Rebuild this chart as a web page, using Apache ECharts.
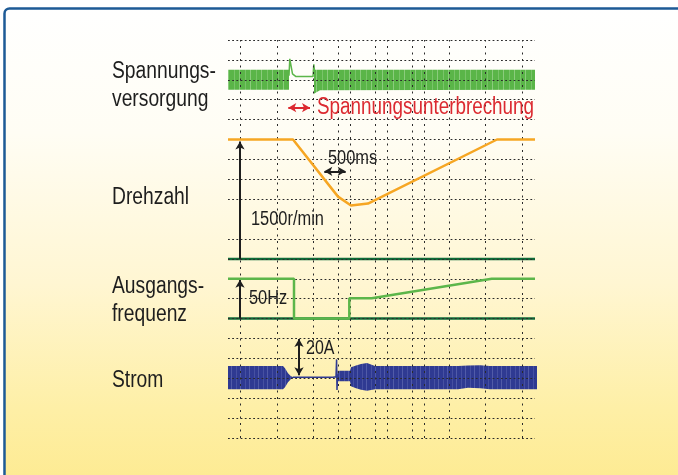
<!DOCTYPE html>
<html>
<head>
<meta charset="utf-8">
<script src="https://cdn.jsdelivr.net/npm/echarts@6/dist/echarts.min.js"></script>
<style>
  html, body { margin: 0; padding: 0; background: #fff; }
  #chart { width: 678px; height: 475px; }
</style>
</head>
<body>
<div id="chart"></div>
<script>
// x = time offset along the trace, y = grid rows counted from the bottom line

// dotted grid
const gridColsA = [12, 48.9, 85.7, 122.5, 159.4, 196.2];
const gridColsB = [110.3, 147.2, 184, 220.9, 257.7, 294.6];
const gridRows = [0, 1, 2, 3, 4, 5, 6, 7, 8, 9, 10, 12, 13, 14, 15, 16, 17, 18, 19, 20];

// zero lines of Drehzahl and Ausgangsfrequenz
const baseRows = [9, 6];

// Spannungsversorgung (envelope of the mains voltage)
const voltA_x = [0, 61];
const voltA_lo = [17.5, 17.5];
const voltA_hi = [18.5, 18.5];
const voltB_x = [86, 88, 92, 307];
const voltB_lo = [17.3, 17.36, 17.48, 17.5];
const voltB_hi = [18.5, 18.5, 18.5, 18.5];
const voltGap = [[61, 18.2], [61.8, 19.05], [64.5, 18.3], [68, 18.16], [85, 18.16], [85.8, 18.78], [86.5, 18.45]];

// Drehzahl
const speedX = [0, 65, 110, 123, 140, 269, 307];
const speedY = [15, 15, 12.13, 11.68, 11.78, 15, 15];

// Ausgangsfrequenz
const freqX = [0, 66, 66, 121.3, 121.3, 143.7, 263.7, 307];
const freqY = [8, 8, 6, 6, 7.02, 7.02, 8, 8];

// Strom (envelope of the motor current)
const currA_x = [0, 55, 57, 60, 63, 65];
const currA_lo = [2.45, 2.45, 2.55, 2.8, 2.97, 3.02];
const currA_hi = [3.62, 3.62, 3.5, 3.25, 3.1, 3.07];
const currLine = [[65, 3.05], [105, 3.05], [106, 3.12], [107, 2.98], [108, 3.08], [108.6, 3.95], [109, 2.41], [109.6, 3.2]];
const currB_x = [109.5, 122, 123, 128, 133, 139, 147, 230, 240, 252, 262, 309];
const currB_lo = [2.85, 2.85, 2.6, 2.5, 2.42, 2.37, 2.45, 2.45, 2.52, 2.5, 2.45, 2.45];
const currB_hi = [3.38, 3.38, 3.56, 3.64, 3.72, 3.77, 3.62, 3.62, 3.64, 3.66, 3.62, 3.62];

const FONT = '"Liberation Sans Narrow", "Liberation Sans", Arial, sans-serif';
const NARROW = 0.82;
const GREEN = '#5cb64a';
const DARK_GREEN = '#0f6b38';
const ORANGE = '#f6a623';
const BLUE = '#2f3a92';
const RED = '#dc2a30';
const INK = '#1e1e1e';

// faint light stripes, like the aliased oscillation in the scope picture
function stripes(base, light, w, cols) {
  const c = document.createElement('canvas');
  c.width = w;
  c.height = 4;
  const g = c.getContext('2d');
  g.fillStyle = base;
  g.fillRect(0, 0, w, 4);
  g.fillStyle = light;
  cols.forEach(function (col) {
    g.globalAlpha = col[1];
    g.fillRect(col[0], 0, 1, 4);
  });
  return { image: c, repeat: 'repeat' };
}

function band(xs, lo, hi, fill) {
  return {
    type: 'custom',
    silent: true,
    clip: false,
    z: 4,
    data: [[xs[0], lo[0]]],
    renderItem: function (params, api) {
      const top = xs.map((x, i) => api.coord([x, hi[i]]));
      const bot = xs.map((x, i) => api.coord([x, lo[i]])).reverse();
      return {
        type: 'polygon',
        shape: { points: top.concat(bot) },
        style: { fill: fill }
      };
    }
  };
}

function trace(data, color, width, z) {
  return {
    type: 'line',
    silent: true,
    symbol: 'none',
    z: z,
    data: data,
    lineStyle: { color: color, width: width }
  };
}

function zip(xs, ys) {
  return xs.map((x, i) => [x, ys[i]]);
}

function label(text, x, y, size, color) {
  return {
    type: 'text',
    z: 20,
    x: x,
    y: y,
    scaleX: NARROW,
    style: {
      text: text, x: 0, y: 0,
      fontSize: size, fontFamily: FONT,
      fill: color || INK,
      verticalAlign: 'middle'
    }
  };
}

const chart = echarts.init(document.getElementById('chart'), null, { renderer: 'canvas' });

const greenFill = stripes('#5ab548', '#b5dfa9', 11, [[3, 0.35], [8, 0.55]]);
const blueFill = stripes('#2f3a92', '#7d84c4', 9, [[2, 0.3], [6, 0.45]]);

const option = {
  animation: false,
  grid: { left: 228, right: 143, top: 40, bottom: 37 },
  xAxis: { type: 'value', min: 0, max: 307, show: false },
  yAxis: { type: 'value', min: 0, max: 20, show: false },
  graphic: [
    {
      type: 'rect',
      z: -10,
      shape: { x: 4.5, y: 8.5, width: 700, height: 500, r: 5 },
      style: {
        fill: new echarts.graphic.LinearGradient(0, 0, 0, 1, [
          { offset: 0, color: '#ffffff' },
          { offset: 0.25, color: '#fffdf4' },
          { offset: 0.55, color: '#fff6d2' },
          { offset: 0.8, color: '#feefa6' },
          { offset: 1, color: '#fde98a' }
        ]),
        stroke: '#1d5a96',
        lineWidth: 2.5
      }
    },
    label('Spannungs-', 112, 72, 23.5),
    label('versorgung', 112, 100, 23.5),
    label('Drehzahl', 112, 198, 23.5),
    label('Ausgangs-', 112, 287, 23.5),
    label('frequenz', 112, 315, 23.5),
    label('Strom', 112, 381, 23.5),
    label('Spannungsunterbrechung', 317, 108, 23, RED),
    label('500ms', 328, 158, 20),
    label('1500r/min', 251, 219, 20),
    label('50Hz', 249, 298, 20),
    label('20A', 306, 349, 19.5)
  ],
  series: [
    {
      // dotted grid
      type: 'line',
      silent: true,
      data: [],
      z: 1,
      markLine: {
        silent: true,
        symbol: 'none',
        animation: false,
        label: { show: false },
        data: gridColsA.concat(gridColsB).map(v => ({
          xAxis: v,
          lineStyle: { type: [2, 4.5], color: '#2a2a2a', width: 1 }
        })).concat(gridRows.map(r => ({
          yAxis: r,
          lineStyle: { type: [1.8, 2.4], color: '#2a2a2a', width: 1 }
        })))
      }
    },
    trace([[0, baseRows[0]], [307, baseRows[0]]], DARK_GREEN, 2.5, 2),
    trace([[0, baseRows[1]], [307, baseRows[1]]], DARK_GREEN, 2.5, 2),
    band(voltA_x, voltA_lo, voltA_hi, greenFill),
    band(voltB_x, voltB_lo, voltB_hi, greenFill),
    trace(voltGap, GREEN, 1.5, 4),
    trace(zip(speedX, speedY), ORANGE, 2.5, 5),
    trace(zip(freqX, freqY), GREEN, 2.5, 5),
    band(currA_x, currA_lo, currA_hi, blueFill),
    band(currB_x, currB_lo, currB_hi, blueFill),
    trace(currLine, BLUE, 1.5, 4),
    {
      // measuring arrows
      type: 'line',
      silent: true,
      data: [],
      z: 8,
      markLine: {
        silent: true,
        animation: false,
        label: { show: false },
        symbolSize: [7, 8],
        lineStyle: { type: 'solid', color: INK, width: 2 },
        data: [
          [{ coord: [12, 9], symbol: 'none' }, { coord: [12, 14.9], symbol: 'arrow' }],
          [{ coord: [12, 6], symbol: 'none' }, { coord: [12, 7.95], symbol: 'arrow' }],
          [{ coord: [71, 3.15], symbol: 'arrow' }, { coord: [71, 4.98], symbol: 'arrow' }],
          [{ coord: [96.3, 13.4], symbol: 'arrow' }, { coord: [117.7, 13.4], symbol: 'arrow' }],
          [{ coord: [60.3, 16.6], symbol: 'arrow', lineStyle: { color: RED } },
           { coord: [82, 16.6], symbol: 'arrow' }]
        ]
      }
    }
  ]
};

chart.setOption(option);
</script>
</body>
</html>
